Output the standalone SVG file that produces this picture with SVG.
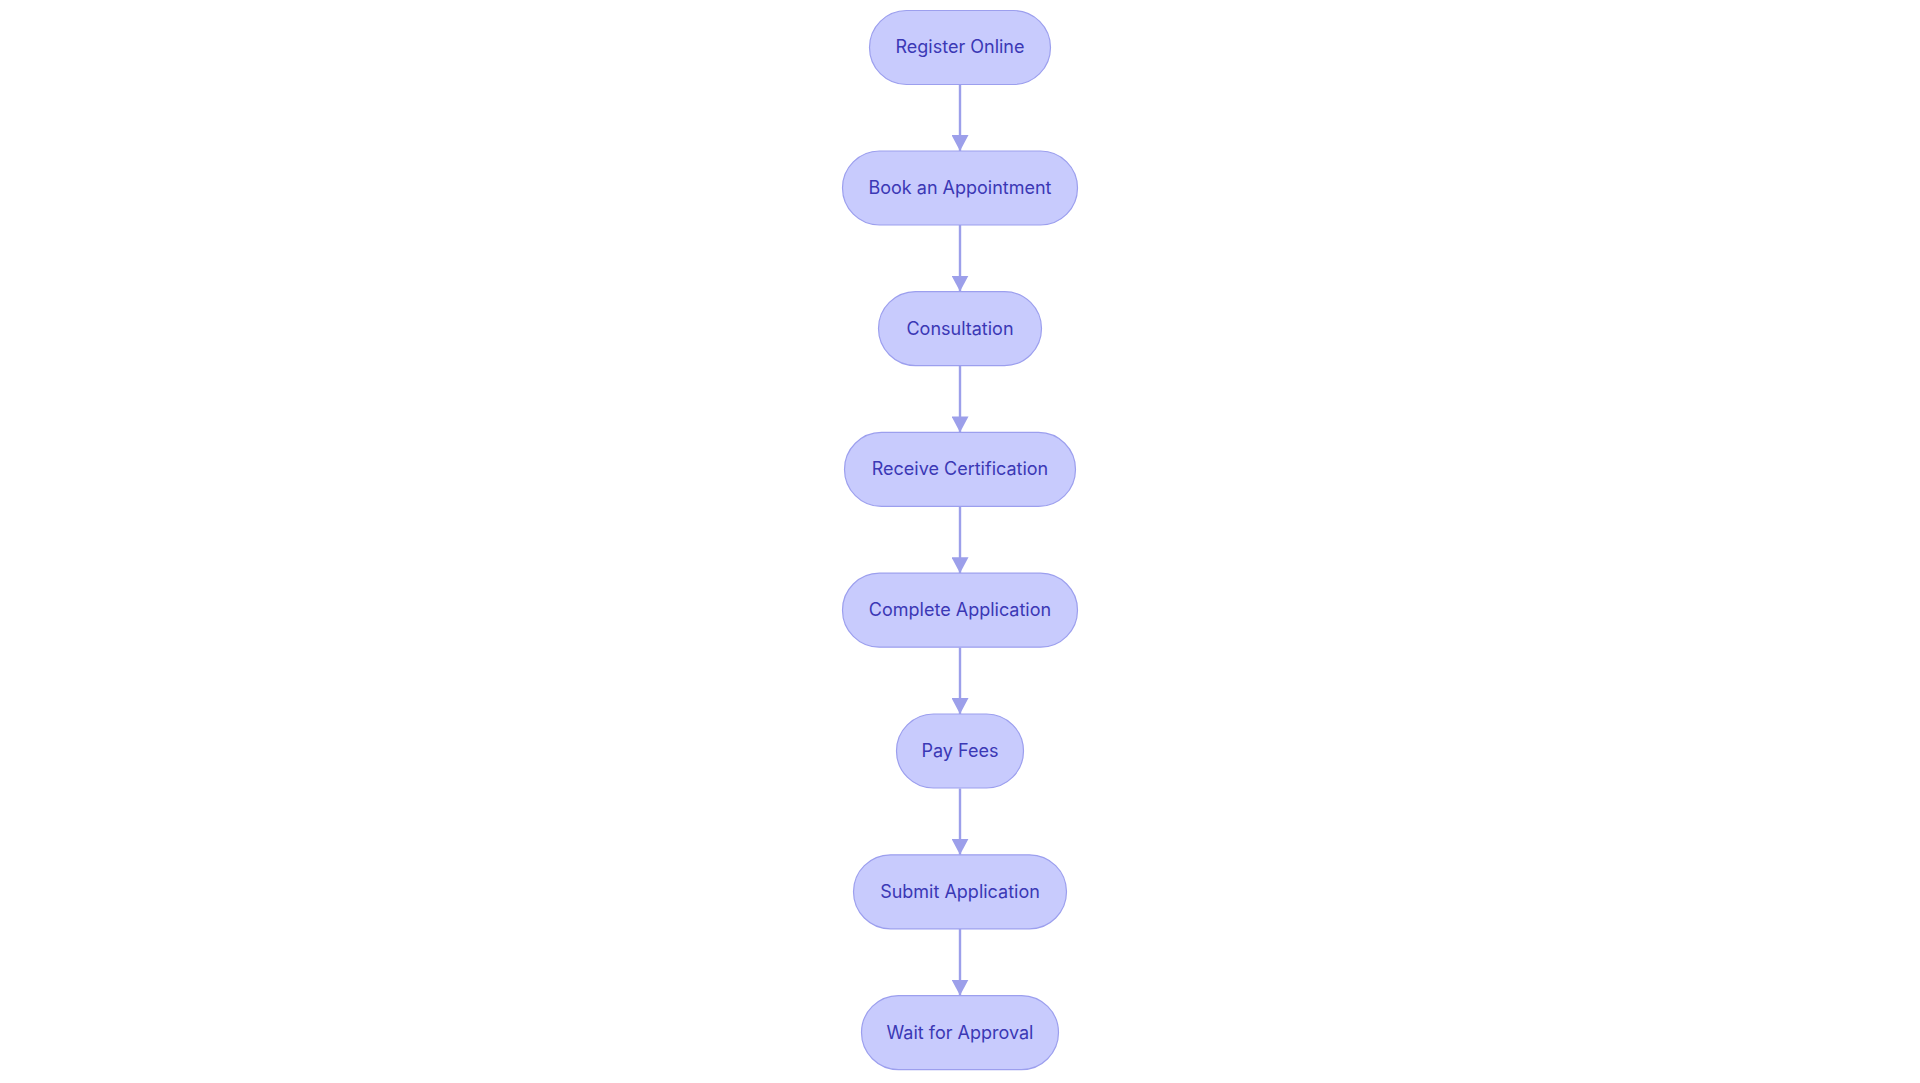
<svg xmlns="http://www.w3.org/2000/svg" width="1920" height="1083" viewBox="0 0 1920 1083">
<style>
.node rect{fill:#C8CBFD;stroke:#9C9FEE;stroke-width:1.2}
.node text{font-family:Inter,"Open Sans","Liberation Sans",sans-serif;font-size:18px;fill:#3B38B5;text-anchor:middle;dominant-baseline:central}
.edge{stroke:#9C9FEA;stroke-width:2.4;fill:none}
</style>
<defs>
<marker id="arr" markerWidth="16" markerHeight="17" refX="16" refY="8.5" orient="auto" markerUnits="userSpaceOnUse">
<path d="M0,0 L16,8.5 L0,17 Z" fill="#9C9FEA"/>
</marker>
</defs>
<rect width="1920" height="1083" fill="#FFFFFF"/>
<g id="connectors">
<line class="edge" x1="960" y1="84" x2="960" y2="151" marker-end="url(#arr)"/>
<line class="edge" x1="960" y1="225" x2="960" y2="291.6" marker-end="url(#arr)"/>
<line class="edge" x1="960" y1="366" x2="960" y2="432.4" marker-end="url(#arr)"/>
<line class="edge" x1="960" y1="507" x2="960" y2="573.2" marker-end="url(#arr)"/>
<line class="edge" x1="960" y1="647.5" x2="960" y2="714" marker-end="url(#arr)"/>
<line class="edge" x1="960" y1="788.5" x2="960" y2="854.8" marker-end="url(#arr)"/>
<line class="edge" x1="960" y1="929" x2="960" y2="995.6" marker-end="url(#arr)"/>
</g>
<g id="n1" class="node"><rect x="869.5" y="10.5" width="181" height="74" rx="37"/><text x="960" y="46.5">Register Online</text></g>
<g id="n2" class="node"><rect x="842.5" y="151" width="235" height="74" rx="37"/><text x="960" y="187.5">Book an Appointment</text></g>
<g id="n3" class="node"><rect x="878.5" y="291.6" width="163" height="74" rx="37"/><text x="960" y="328">Consultation</text></g>
<g id="n4" class="node"><rect x="844.5" y="432.4" width="231" height="74" rx="37"/><text x="960" y="468.9">Receive Certification</text></g>
<g id="n5" class="node"><rect x="842.5" y="573.2" width="235" height="74" rx="37"/><text x="960" y="609.7">Complete Application</text></g>
<g id="n6" class="node"><rect x="896.5" y="714" width="127" height="74" rx="37"/><text x="960" y="750.5">Pay Fees</text></g>
<g id="n7" class="node"><rect x="853.5" y="854.8" width="213" height="74" rx="37"/><text x="960" y="891.3">Submit Application</text></g>
<g id="n8" class="node"><rect x="861.5" y="995.6" width="197" height="74" rx="37"/><text x="960" y="1032.1">Wait for Approval</text></g>
</svg>
